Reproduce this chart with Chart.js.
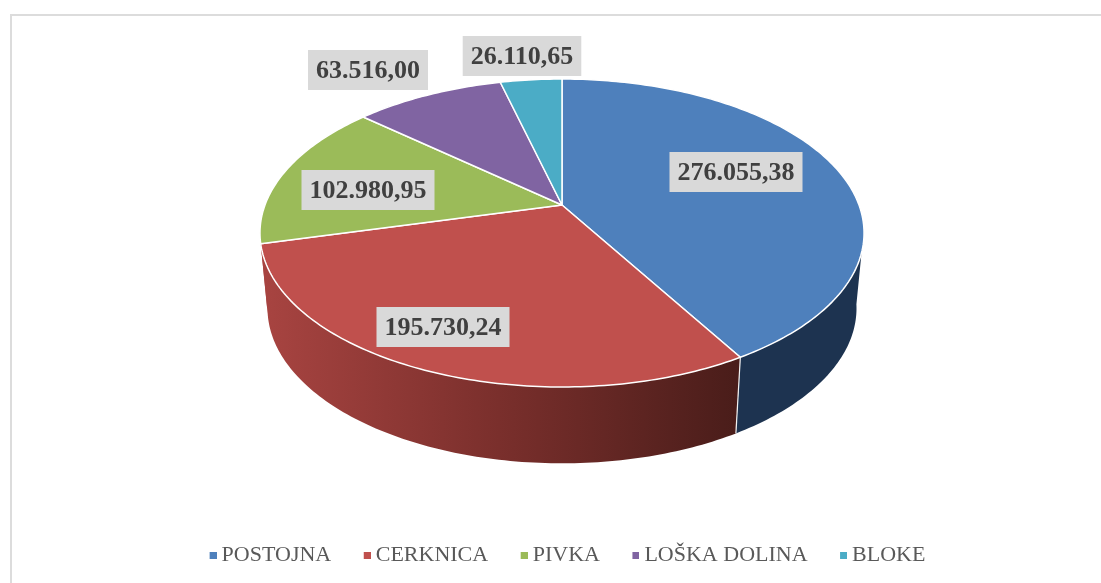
<!DOCTYPE html>
<html>
<head>
<meta charset="utf-8">
<style>
    html, body { margin: 0; padding: 0; background: #fff; overflow: hidden; }
    #frame { position: absolute; left: 10px; top: 14px; right: 0; bottom: 0; border-top: 2px solid #dcdcdc; border-left: 2px solid #dcdcdc; }
    #pie { position: absolute; left: 0; top: 0; }
</style>
<script src="https://cdn.jsdelivr.net/npm/chart.js@4"></script>
</head>
<body>
<div id="frame"></div>
<canvas id="pie" width="1101" height="583"></canvas>
<script>
const categories = ['POSTOJNA', 'CERKNICA', 'PIVKA', 'LOŠKA DOLINA', 'BLOKE'];
const values = [276055.38, 195730.24, 102980.95, 63516.00, 26110.65];
const topColors = ['#4e80bc', '#c0504d', '#9bbb59', '#8064a2', '#4bacc6'];
const wallColors = ['#1d3350', null, '#a84441', '#41325a', '#255a68'];

// where the grey value boxes sit, same order as categories
const labelCenters = [[736, 172], [443, 327], [368, 190], [368, 70], [522, 56]];

// perspective of the top face and of the lower rim
const topDisc = { cx: 562, cy: 205, a: 297, b: 148.9, k: 0.1818 };
const lowDisc = { cx: 562, cy: 280, a: 289.6, b: 150, k: 0.1818 };

function project(d, t, r) {
    const x = Math.sin(t) * r, y = Math.cos(t) * r;
    const w = 1 + d.k * y;
    return [d.cx + d.a * x / w, d.cy - d.b * y / w];
}

function rimPoints(d, t1, t2) {
    const n = Math.max(2, Math.ceil((t2 - t1) * 60));
    const pts = [];
    for (let i = 0; i <= n; i++) pts.push(project(d, t1 + (t2 - t1) * i / n, 1));
    return pts;
}

function trace(ctx, pts) {
    pts.forEach((p, i) => i ? ctx.lineTo(p[0], p[1]) : ctx.moveTo(p[0], p[1]));
}

// legend square, drawn off centre so it sits closer to its text
function legendMark(color) {
    const c = document.createElement('canvas');
    c.width = 13;
    c.height = 7;
    const g = c.getContext('2d');
    g.fillStyle = color;
    g.fillRect(6, 0, 7, 7);
    return c;
}

const pie3d = {
    id: 'pie3d',
    beforeDatasetsDraw(chart) {
        const ctx = chart.ctx;
        const arcs = chart.getDatasetMeta(0).data;
        const angles = arcs.map(a => [a.startAngle + Math.PI / 2, a.endAngle + Math.PI / 2]);
        const wallFrom = Math.PI * 0.55, wallTo = Math.PI * 1.45;
        const borderW = chart.data.datasets[0].borderWidth;

        ctx.save();
        ctx.lineJoin = 'round';

        // side walls first
        angles.forEach((ang, i) => {
            const t1 = Math.max(ang[0], wallFrom), t2 = Math.min(ang[1], wallTo);
            if (t2 <= t1) return;
            const up = rimPoints(topDisc, t1, t2);
            const low = rimPoints(lowDisc, t1, t2).reverse();
            ctx.beginPath();
            trace(ctx, up.concat(low));
            ctx.closePath();
            if (wallColors[i]) {
                ctx.fillStyle = wallColors[i];
            } else {
                const g = ctx.createLinearGradient(262, 0, 736, 0);
                g.addColorStop(0, '#a84441');
                g.addColorStop(0.5, '#7a2f2c');
                g.addColorStop(1, '#4a1d1a');
                ctx.fillStyle = g;
            }
            ctx.fill();
        });

        // white seam where blue and red walls meet
        const seam = angles[0][1];
        const s1 = project(topDisc, seam, 1), s2 = project(lowDisc, seam, 1);
        ctx.strokeStyle = '#f2f2f2';
        ctx.lineWidth = 1.2;
        ctx.beginPath();
        ctx.moveTo(s1[0], s1[1]);
        ctx.lineTo(s2[0], s2[1]);
        ctx.stroke();

        // top face
        angles.forEach((ang, i) => {
            ctx.beginPath();
            ctx.moveTo(topDisc.cx, topDisc.cy);
            rimPoints(topDisc, ang[0], ang[1]).forEach(p => ctx.lineTo(p[0], p[1]));
            ctx.closePath();
            ctx.fillStyle = topColors[i];
            ctx.fill();
            ctx.strokeStyle = '#ffffff';
            ctx.lineWidth = borderW;
            ctx.stroke();
        });
        ctx.restore();
        return false;
    },
    afterDraw(chart) {
        const ctx = chart.ctx;
        ctx.save();
        ctx.font = 'bold 26px "Liberation Serif"';
        ctx.textAlign = 'center';
        ctx.textBaseline = 'middle';
        values.forEach((v, i) => {
            const txt = v.toLocaleString('de-DE', { minimumFractionDigits: 2, maximumFractionDigits: 2 });
            const w = ctx.measureText(txt).width + 16;
            const c = labelCenters[i];
            ctx.fillStyle = '#d9d9d9';
            ctx.fillRect(c[0] - w / 2, c[1] - 20, w, 40);
            ctx.fillStyle = '#404040';
            ctx.fillText(txt, c[0], c[1] + 1);
        });
        ctx.restore();
    }
};

new Chart(document.getElementById('pie'), {
    type: 'pie',
    data: {
        labels: categories,
        datasets: [{
            data: values,
            backgroundColor: topColors,
            borderColor: '#ffffff',
            borderWidth: 1.5
        }]
    },
    options: {
        responsive: false,
        animation: false,
        layout: { padding: { left: 34, bottom: 7 } },
        plugins: {
            tooltip: { enabled: false },
            legend: {
                position: 'bottom',
                labels: {
                    usePointStyle: true,
                    boxWidth: 1,
                    boxHeight: 7,
                    padding: 32.5,
                    color: '#595959',
                    font: { family: '"Liberation Serif"', size: 22 },
                    generateLabels(chart) {
                        return Chart.overrides.pie.plugins.legend.labels.generateLabels(chart).map((l, i) => {
                            l.pointStyle = legendMark(topColors[i]);
                            return l;
                        });
                    }
                }
            }
        }
    },
    plugins: [pie3d]
});
</script>
</body>
</html>
